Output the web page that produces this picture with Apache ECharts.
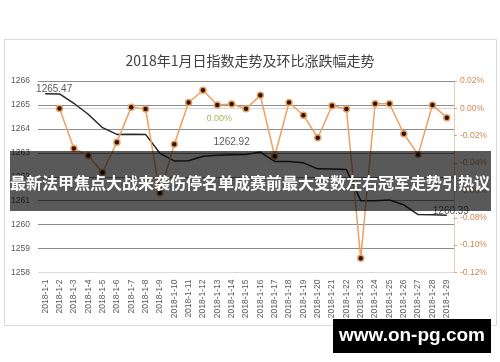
<!DOCTYPE html>
<html><head><meta charset="utf-8">
<script src="https://cdn.jsdelivr.net/npm/echarts@6/dist/echarts.min.js"></script>
<style>html,body{margin:0;padding:0;background:#fff}#c{width:500px;height:362px}</style>
</head><body><div id="c"></div>
<script>
const titleText = '2018年1月日指数走势及环比涨跌幅走势';
const categories = ['2018-1-1','2018-1-2','2018-1-3','2018-1-4','2018-1-5','2018-1-6','2018-1-7','2018-1-8','2018-1-9','2018-1-10',
  '2018-1-11','2018-1-12','2018-1-13','2018-1-14','2018-1-15','2018-1-16','2018-1-17','2018-1-18','2018-1-19','2018-1-20',
  '2018-1-21','2018-1-22','2018-1-23','2018-1-24','2018-1-25','2018-1-26','2018-1-27','2018-1-28','2018-1-29'];
const indexValues = [1265.47,1265.46,1265.07,1264.61,1264.05,1263.77,1263.78,1263.77,1262.98,1262.66,
  1262.67,1262.86,1262.90,1262.92,1262.93,1263.03,1262.64,1262.64,1262.58,1262.33,
  1262.32,1262.30,1261.00,1261.00,1261.03,1260.83,1260.42,1260.41,1260.39];
// ring change, in percent
const changePct = [null,-0.0001,-0.0294,-0.0345,-0.0469,-0.0247,0.0009,-0.0005,-0.0619,-0.0262,
  0.0043,0.0132,0.0024,0.0032,-0.0003,0.0095,-0.0351,0.0043,-0.0050,-0.0215,
  0.0019,-0.0005,-0.1095,0.0034,0.0034,-0.0186,-0.0338,0.0024,-0.0068];
const leftMin = 1258, leftMax = 1266, leftStep = 1;
const rightMin = -0.12, rightMax = 0.02, rightStep = 0.02;
const indexLabelAt = [0, 13, 28];
const pctLabelAt = [12];
const bannerText = '最新法甲焦点大战来袭伤停名单成赛前最大变数左右冠军走势引热议';
const watermarkText = 'www.on-pg.com';

const labelFont = 'Liberation Sans';
const gridColors = [];
for (let v = leftMin; v <= leftMax; v += leftStep) gridColors.push(v === leftMin ? '#d9d9d9' : '#8c8c8c');

const indexData = indexValues.map((v, i) => {
  if (!indexLabelAt.includes(i)) return v;
  const off = i === 0 ? [9, 6] : (i === 28 ? [4, 6] : [0, -2]);
  return {value: v, label: {show: true, position: 'top', offset: off, color: '#595959', fontSize: 10, fontFamily: labelFont,
    formatter: p => Number(p.value).toFixed(2)}};
});
const pctData = changePct.map((v, i) => {
  if (!pctLabelAt.includes(i)) return v;
  return {value: v, label: {show: true, position: 'bottom', offset: [2, 0], color: '#9BBB59', fontSize: 9, fontFamily: labelFont,
    formatter: p => Number(p.value).toFixed(2) + '%'}};
});

const chart = echarts.init(document.getElementById('c'), null, {renderer: 'canvas'});
chart.setOption({
  animation: false,
  backgroundColor: '#fff',
  title: {text: titleText, left: 'center', top: 49,
    textStyle: {fontSize: 14, fontWeight: 'normal', color: '#404040', fontFamily: 'Noto Sans CJK SC'}},
  grid: {left: 38, right: 46, top: 81, bottom: 89.5, containLabel: false},
  xAxis: {type: 'category', data: categories, boundaryGap: true,
    axisLine: {show: true, lineStyle: {color: '#d9d9d9'}},
    axisTick: {show: false},
    axisLabel: {rotate: 90, fontSize: 8.5, color: '#595959', fontFamily: labelFont, margin: 7, interval: 0}},
  yAxis: [
    {type: 'value', min: leftMin, max: leftMax, interval: leftStep,
      axisLine: {show: false}, axisTick: {show: false},
      axisLabel: {fontSize: 8.5, color: '#595959', fontFamily: labelFont, margin: 8, formatter: v => String(v)},
      splitLine: {show: true, lineStyle: {color: gridColors, width: 1}}},
    {type: 'value', min: rightMin, max: rightMax, interval: rightStep, position: 'right',
      axisLine: {show: true, lineStyle: {color: '#EBCBAE'}},
      axisTick: {show: true, inside: false, length: 3, lineStyle: {color: '#D9A77A'}},
      axisLabel: {fontSize: 8.5, color: '#C98A55', fontFamily: labelFont, margin: 6,
        formatter: v => (Math.abs(v) < 1e-9 ? 0 : v).toFixed(2) + '%'},
      splitLine: {show: false}}
  ],
  series: [
    {name: '指数', type: 'line', yAxisIndex: 0, data: indexData, symbol: 'circle', symbolSize: 0.01, showSymbol: true,
      itemStyle: {color: '#262626'},
      lineStyle: {color: '#262626', width: 1.5}, z: 3},
    {name: '环比', type: 'line', yAxisIndex: 1, data: pctData, connectNulls: false,
      symbol: 'circle', symbolSize: 6, showAllSymbol: true,
      lineStyle: {color: '#EBA062', width: 1.5},
      itemStyle: {color: '#2a1505', borderColor: '#EBA062', borderWidth: 1.5}, z: 4}
  ],
  graphic: [
    {type: 'rect', silent: true, z: 0, shape: {x: 4.5, y: 39.5, width: 492, height: 286},
      style: {fill: 'none', stroke: '#d9d9d9', lineWidth: 1}},
    {type: 'rect', silent: true, z: 100, shape: {x: 10, y: 151, width: 481, height: 60},
      style: {fill: 'rgba(0,0,0,0.65)'}},
    {type: 'text', silent: true, z: 101, x: 250, y: 183,
      style: {text: bannerText, fill: '#ffffff', font: 'bold 16px "Noto Sans CJK SC"', textAlign: 'center', textVerticalAlign: 'middle'}},
    {type: 'rect', silent: true, z: 100, shape: {x: 333, y: 319, width: 158, height: 34},
      style: {fill: '#000000'}},
    {type: 'text', silent: true, z: 101, x: 412, y: 336,
      style: {text: watermarkText, fill: '#ffffff', font: 'bold 19px "Liberation Sans"', textAlign: 'center', textVerticalAlign: 'middle'}}
  ]
});
</script>
</body></html>
